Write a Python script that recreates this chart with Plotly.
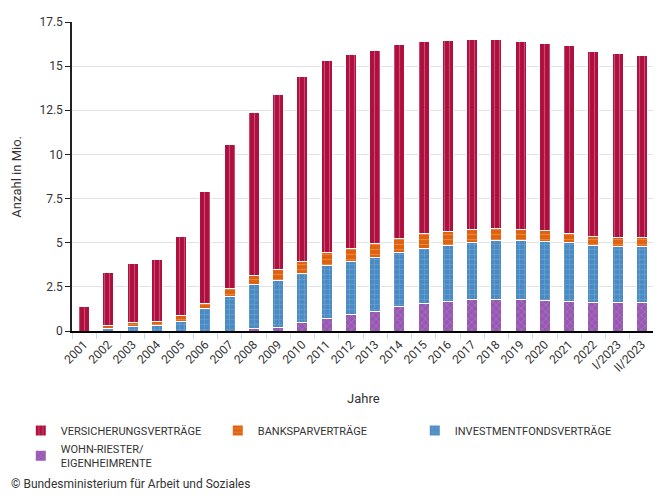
import plotly.graph_objects as go

years = ["2001", "2002", "2003", "2004", "2005", "2006", "2007", "2008", "2009", "2010",
         "2011", "2012", "2013", "2014", "2015", "2016", "2017", "2018", "2019", "2020",
         "2021", "2022", "I/2023", "II/2023"]

wohn = [0, 0, 0, 0, 0, 0, 0, 0.15, 0.2, 0.48, 0.71, 0.93, 1.13, 1.36, 1.56, 1.66, 1.77,
        1.80, 1.80, 1.75, 1.69, 1.64, 1.60, 1.60]
invest = [0, 0.15, 0.28, 0.33, 0.56, 1.26, 1.95, 2.47, 2.65, 2.79, 3.01, 2.98, 3.05, 3.08,
          3.13, 3.18, 3.25, 3.31, 3.31, 3.31, 3.31, 3.18, 3.18, 3.16]
bank = [0, 0.18, 0.18, 0.23, 0.30, 0.32, 0.45, 0.54, 0.61, 0.69, 0.74, 0.78, 0.79, 0.82,
        0.81, 0.80, 0.71, 0.67, 0.62, 0.61, 0.52, 0.54, 0.54, 0.52]
vers = [1.39, 2.96, 3.37, 3.48, 4.48, 6.34, 8.15, 9.21, 9.95, 10.43, 10.86, 10.95, 10.93,
        10.96, 10.92, 10.84, 10.80, 10.75, 10.69, 10.62, 10.64, 10.45, 10.38, 10.31]

names = ["WOHN-RIESTER/<br>EIGENHEIMRENTE", "INVESTMENTFONDSVERTRÄGE",
         "BANKSPARVERTRÄGE", "VERSICHERUNGSVERTRÄGE"]
series = [wohn, invest, bank, vers]
colors = ["#9758b2", "#4b8bc4", "#e0620f", "#ae0f3e"]
fgcolors = ["#c4a0d8", "#93bde3", "#f4a86e", "#df8aa3"]
shapes = ["x", "+", "-", "|"]

FONT = "Roboto, Arial, sans-serif"

fig = go.Figure()
for name, vals, c, fg, sh in zip(names, series, colors, fgcolors, shapes):
    fig.add_trace(go.Bar(
        x=years, y=vals, name=name,
        marker=dict(color=c, line=dict(color="white", width=1),
                    pattern=dict(shape=sh, fgcolor=fg, size=5, solidity=0.22)),
    ))

fig.update_layout(
    barmode="stack",
    bargap=0.54,
    width=653, height=488,
    margin=dict(l=64, r=7, t=9, b=165),
    paper_bgcolor="white", plot_bgcolor="white",
    font=dict(family=FONT, size=12, color="#333333"),
    showlegend=True,
    legend=dict(orientation="h", traceorder="reversed", x=-0.088, xanchor="left",
                y=-0.275, yanchor="top", entrywidth=152, entrywidthmode="pixels",
                font=dict(size=11, color="#333333"), itemsizing="constant"),
    xaxis=dict(type="category", showline=True, linecolor="#000000", linewidth=1.5,
               ticks="outside", tickson="boundaries", tickcolor="#c7dbef", ticklen=6,
               tickangle=-45, tickfont=dict(size=12, color="#333333"), showgrid=False),
    yaxis=dict(range=[0, 17.5], tickvals=[0, 2.5, 5, 7.5, 10, 12.5, 15, 17.5],
               ticktext=["0", "2.5", "5", "7.5", "10", "12.5", "15", "17.5"],
               showline=True, linecolor="#222222", linewidth=1.5, ticks="outside",
               ticklen=5, tickcolor="#222222", showgrid=True, gridcolor="#e3e3e3",
               zeroline=False, tickfont=dict(size=12, color="#333333")),
    annotations=[
        dict(text="Jahre", x=0.5, y=-0.22, xref="paper", yref="paper", showarrow=False,
             font=dict(size=13, color="#333333"), xanchor="center", yanchor="middle"),
        dict(text="Anzahl in Mio.", x=-0.096, y=0.5, xref="paper", yref="paper",
             showarrow=False, textangle=-90, font=dict(size=13, color="#333333"),
             xanchor="center", yanchor="middle"),
        dict(text="© Bundesministerium für Arbeit und Soziales", x=-0.108, y=-0.494,
             xref="paper", yref="paper", showarrow=False, xanchor="left", yanchor="middle",
             font=dict(size=12, color="#333333")),
    ],
)

fig.write_html("out.html")
